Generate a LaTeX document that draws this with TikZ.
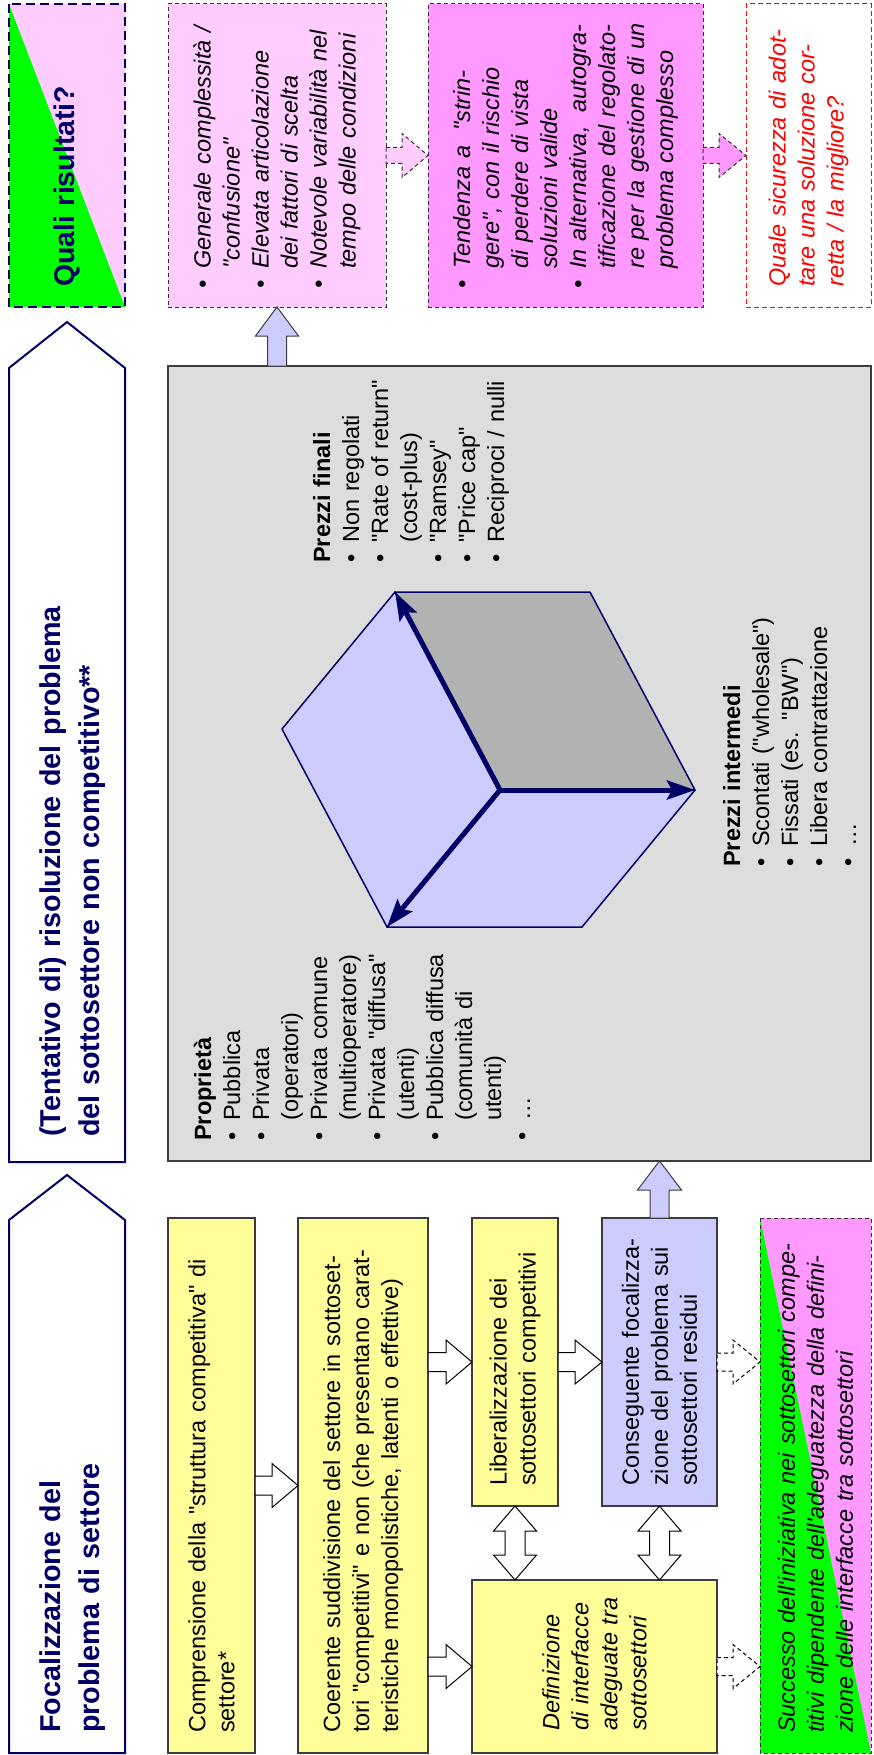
\documentclass[tikz,border=0pt]{standalone}
\usepackage{fontspec}
\setmainfont{Liberation Sans}[Ligatures=TeXOff]
\usetikzlibrary{arrows.meta,calc}
\definecolor{navy}{RGB}{0,0,102}
\definecolor{ylw}{RGB}{255,255,153}
\definecolor{lblue}{RGB}{204,204,255}
\definecolor{lpink}{RGB}{255,204,255}
\definecolor{mpink}{RGB}{255,153,255}
\definecolor{grn}{RGB}{0,255,0}
\definecolor{panelgray}{RGB}{221,221,221}
\definecolor{cubegray}{RGB}{178,178,178}
\definecolor{edgegray}{RGB}{60,60,60}
\newcommand\Item[1]{\hangindent=20pt\hangafter=1\noindent\makebox[20pt][l]{•}#1\par}
% right-pointing block arrow: style, from, tip, shaft half width, head half width, head length
\newcommand\RArr[6][]{\draw[#1] let \p1=(#2), \p2=(#3) in (\x1,\y1+#4) -- (\x2-#6,\y1+#4) -- (\x2-#6,\y1+#5) -- (\x2,\y1) -- (\x2-#6,\y1-#5) -- (\x2-#6,\y1-#4) -- (\x1,\y1-#4) -- cycle;}
% up-pointing block arrow: style, base, tip, shaft hw, head hw, head length
\newcommand\UArr[6][]{\draw[#1] let \p1=(#2), \p2=(#3) in (\x1-#4,\y1) -- (\x1-#4,\y2-#6) -- (\x1-#5,\y2-#6) -- (\x1,\y2) -- (\x1+#5,\y2-#6) -- (\x1+#4,\y2-#6) -- (\x1+#4,\y1) -- cycle;}
% vertical double block arrow: style, top tip, bottom tip, shaft hw, head hw, head length
\newcommand\VDArr[6][]{\draw[#1] let \p1=(#2), \p2=(#3) in (\x1,\y1) -- (\x1+#5,\y1-#6) -- (\x1+#4,\y1-#6) -- (\x1+#4,\y2+#6) -- (\x1+#5,\y2+#6) -- (\x1,\y2) -- (\x1-#5,\y2+#6) -- (\x1-#4,\y2+#6) -- (\x1-#4,\y1-#6) -- (\x1-#5,\y1-#6) -- cycle;}
\begin{document}
\begin{tikzpicture}[x=1pt,y=-1pt,
  boxnode/.style={rectangle, inner sep=0pt, outer sep=0pt},
  solidbox/.style={boxnode, draw=edgegray, line width=1.5pt},
  dashbox/.style={boxnode, draw=black!80, line width=1pt, dash pattern=on 4pt off 3pt},
  body/.style={rotate=90, inner sep=0pt, align=left, text width=600pt, font=\fontsize{23.5}{29}\selectfont},
  ibody/.style={body, font=\fontsize{23.5}{29}\selectfont\itshape},
  hdr/.style={draw=navy, line width=2pt, fill=white, line join=miter},
  hdrtxt/.style={rotate=90, inner sep=0pt, align=left, text width=600pt, text=navy, font=\fontsize{28.7}{39}\selectfont\bfseries},
  warr/.style={draw=black, line width=1pt, fill=white},
  barr/.style={draw=edgegray, line width=1pt, fill=lblue},
  dwarr/.style={draw=black, line width=1pt, fill=white, dash pattern=on 4pt off 3pt},
  parr/.style={draw=black!80, line width=1pt, dash pattern=on 4pt off 3pt},
  cubeedge/.style={draw=navy, line width=1.5pt, line join=round},
  cubearrow/.style={draw=navy, line width=5pt, -{Stealth[length=28pt, width=19pt, inset=5pt]}}
]
\useasboundingbox (0,0) rectangle (874,1755);
\fill[white] (0,0) rectangle (874,1755);

% ---------- header arrows ----------
\draw[hdr] (9,1753) -- (125,1753) -- (125,1220) -- (67,1175) -- (9,1220) -- cycle;
\node[hdrtxt, anchor=base west] (h1t) at (60,1733) {Focalizzazione del\\problema di settore};
\draw[hdr] (9,1162) -- (125,1162) -- (125,368) -- (67,322) -- (9,368) -- cycle;
\node[hdrtxt, anchor=base west] (h2t) at (60,1137) {(Tentativo di) risoluzione del problema\\del sottosettore non competitivo**};

% ---------- Quali risultati ----------
\node[boxnode, fill=lpink, minimum width=116, minimum height=303] (quali) at (67,155.5) {};
\fill[grn] (quali.north west) -- (quali.south west) -- (quali.south east) -- cycle;
\draw[navy, line width=2.5pt, dash pattern=on 9pt off 5pt] (quali.north west) rectangle (quali.south east);
\node[body, anchor=west, text=navy, font=\fontsize{28.5}{34}\selectfont\bfseries] (qualit) at ([yshift=20pt]quali.south) {Quali risultati?};

% ---------- top row boxes ----------
\node[dashbox, fill=lpink, minimum width=218, minimum height=303] (box1) at (277,155.5) {};
\node[ibody, anchor=west] (box1t) at ([yshift=18pt]box1.south) {\Item{Generale complessità /\newline"confusione"}\Item{Elevata articolazione\newline dei fattori di scelta}\Item{Notevole variabilità nel\newline tempo delle condizioni}};

\node[dashbox, fill=mpink, minimum width=275, minimum height=303] (box2) at (565.5,155.5) {};
\node[ibody, anchor=west] (box2t) at ([yshift=18pt]box2.south) {\Item{Tendenza a\hspace{7pt} "strin-\newline gere", con il rischio\newline di perdere di vista\newline soluzioni valide}\Item{In alternativa,\hspace{6pt} autogra-\newline tificazione del regolato-\newline re per la gestione di un\newline problema complesso}};

\node[boxnode, draw=red, line width=1pt, dash pattern=on 5pt off 3pt, fill=white, minimum width=125, minimum height=303] (box3) at (808.5,155.5) {};
\node[ibody, anchor=west, text=red] (box3t) at ([yshift=20pt]box3.south) {Quale sicurezza di adot-\\tare una soluzione cor-\\retta / la migliore?};

\RArr[parr, fill=lpink]{box1.east}{box2.west}{8pt}{22pt}{26pt}
\RArr[parr, fill=mpink]{box2.east}{box3.west}{8pt}{22pt}{27pt}

% ---------- central panel ----------
\node[solidbox, fill=panelgray, minimum width=703, minimum height=795] (panel) at (519.5,763.5) {};
\UArr[barr]{box1.south |- panel.north}{box1.south}{9.5pt}{21.5pt}{29pt}

\node[body, anchor=base west] (prop) at (211,1141) {\textbf{Proprietà}\par\Item{Pubblica}\Item{Privata\newline(operatori)}\Item{Privata comune\newline(multioperatore)}\Item{Privata "diffusa"\newline(utenti)}\Item{Pubblica diffusa\newline(comunità di\newline utenti)}\Item{…}};
\node[body, anchor=base west] (pfin) at (330,563) {\textbf{Prezzi finali}\par\Item{Non regolati}\Item{"Rate of return"\newline(cost-plus)}\Item{"Ramsey"}\Item{"Price cap"}\Item{Reciproci / nulli}};
\node[body, anchor=base west] (pint) at (740,867) {\textbf{Prezzi intermedi}\par\Item{Scontati ("wholesale")}\Item{Fissati (es. "BW")}\Item{Libera contrattazione}\Item{…}};

% cube
\coordinate (cO) at (500,790);
\coordinate (cA) at (395,592);
\coordinate (cB) at (590,592);
\coordinate (cC) at (695,790);
\coordinate (cD) at (582,927);
\coordinate (cE) at (387,927);
\coordinate (cF) at (282,729);
\filldraw[cubeedge, fill=cubegray] (cO) -- (cA) -- (cB) -- (cC) -- cycle;
\filldraw[cubeedge, fill=lblue] (cO) -- (cC) -- (cD) -- (cE) -- cycle;
\filldraw[cubeedge, fill=lblue] (cO) -- (cE) -- (cF) -- (cA) -- cycle;
\draw[cubearrow] (cO) -- (cA);
\draw[cubearrow] (cO) -- (cC);
\draw[cubearrow] (cO) -- (cE);

% ---------- lower boxes ----------
\node[solidbox, fill=ylw, minimum width=87, minimum height=535] (comp) at (211.5,1485.5) {};
\node[body, anchor=west] (compt) at ([yshift=20pt]comp.south) {Comprensione della "struttura competitiva" di\\settore*};

\node[solidbox, fill=ylw, minimum width=130, minimum height=535] (coer) at (363,1485.5) {};
\node[body, anchor=west] (coert) at ([yshift=20pt]coer.south) {Coerente suddivisione del settore in sottoset-\\tori "competitivi" e non (che presentano carat-\\teristiche monopolistiche, latenti o effettive)};

\node[solidbox, fill=ylw, minimum width=86, minimum height=288] (lib) at (515,1362) {};
\node[body, anchor=west] (libt) at ([yshift=20pt]lib.south) {Liberalizzazione dei\\sottosettori competitivi};

\node[solidbox, fill=lblue, minimum width=115, minimum height=288] (blue) at (659.5,1362) {};
\node[body, anchor=west] (bluet) at ([yshift=20pt]blue.south) {Conseguente focalizza-\\zione del problema sui\\sottosettori residui};

\node[solidbox, fill=ylw, minimum width=245, minimum height=173] (def) at (594.5,1666.5) {};
\node[ibody, anchor=west] (deft) at ([yshift=22pt]def.south) {Definizione\\di interfacce\\adeguate tra\\sottosettori};

\node[boxnode, fill=mpink, minimum width=111, minimum height=535] (succ) at (815.5,1485.5) {};
\fill[grn] (succ.north west) -- (succ.south west) -- (succ.south east) -- cycle;
\draw[black!80, line width=1pt, dash pattern=on 4pt off 3pt] (succ.north west) rectangle (succ.south east);
\node[ibody, anchor=west] (succt) at ([yshift=20pt]succ.south) {Successo dell'iniziativa nei sottosettori compe-\\titivi dipendente dell'adeguatezza della defini-\\zione delle interfacce tra sottosettori};

% ---------- lower connectors ----------
\RArr[warr]{comp.east}{coer.west}{9.5pt}{22pt}{26pt}
\RArr[warr]{coer.east |- lib.west}{lib.west}{9.5pt}{22pt}{26pt}
\RArr[warr]{coer.east |- def.west}{def.west}{9.5pt}{22pt}{26pt}
\RArr[warr]{lib.east}{blue.west}{9.5pt}{22pt}{27pt}
\RArr[dwarr]{blue.east}{succ.west |- blue.east}{9pt}{22pt}{27pt}
\RArr[dwarr]{def.east}{succ.west |- def.east}{9pt}{22pt}{27pt}
\VDArr[warr]{lib.south}{lib.south |- def.north}{10pt}{21.5pt}{25pt}
\VDArr[warr]{blue.south}{blue.south |- def.north}{10pt}{21.5pt}{25pt}
\UArr[barr]{blue.north}{blue.north |- panel.south}{9.5pt}{22pt}{29pt}
\end{tikzpicture}
\end{document}
